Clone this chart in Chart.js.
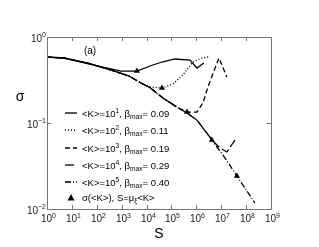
<!DOCTYPE html>
<html>
<head>
<title>sigma vs S</title>
<script src="https://cdn.jsdelivr.net/npm/chart.js"></script>
<style>
  body { margin: 0; background: #fff; }
  canvas { display: block; }
</style>
</head>
<body>
<canvas id="chart" width="319" height="247"></canvas>
<script>
// curve data (S, sigma)
const s1   = [1, 4.8, 77, 937, 4.1e3, 1.37e4, 4.15e4, 1.38e5, 5.5e5, 1.06e6, 2.0e6];
const sig1 = [0.585, 0.570, 0.472, 0.402, 0.402, 0.460, 0.512, 0.555, 0.540, 0.436, 0.499];

const s2   = [1, 4.8, 40, 372, 1960, 5960, 1.37e4, 4.15e4, 1.15e5, 2.9e5, 7.3e5, 1.68e6, 2.9e6, 3.5e6];
const sig2 = [0.585, 0.570, 0.499, 0.413, 0.352, 0.292, 0.262, 0.255, 0.284, 0.362, 0.512, 0.570, 0.585, 0.570];

const s3   = [1, 4.8, 40, 372, 1960, 5960, 1.37e4, 4.56e4, 1.66e5, 4.2e5, 1.06e6, 1.84e6, 2.92e6, 8.1e6, 1.69e7];
const sig3 = [0.585, 0.570, 0.499, 0.413, 0.352, 0.292, 0.258, 0.195, 0.153, 0.134, 0.134, 0.171, 0.262, 0.570, 0.343];

const s4   = [1, 4.8, 40, 372, 1960, 5960, 1.37e4, 4.56e4, 1.66e5, 4.2e5, 1.06e6, 3.5e6, 4.2e6, 8.9e6, 1.69e7, 3.55e7];
const sig4 = [0.585, 0.570, 0.499, 0.413, 0.352, 0.292, 0.258, 0.195, 0.153, 0.131, 0.108, 0.0687, 0.0634, 0.0512, 0.046, 0.0634];

const s5   = [1, 4.8, 40, 372, 1960, 5960, 1.37e4, 4.56e4, 1.66e5, 4.2e5, 1.06e6, 3.5e6, 4.2e6, 1.41e7, 4.27e7, 2.25e8];
const sig5 = [0.585, 0.570, 0.499, 0.413, 0.352, 0.292, 0.258, 0.195, 0.153, 0.131, 0.108, 0.0687, 0.0634, 0.0392, 0.0242, 0.01175];

// triangles: sigma(<K>) at S = mu_xi <K>
const triS   = [4.1e3, 4.15e4, 4.2e5, 4.2e6, 4.27e7];
const triSig = [0.402, 0.255, 0.134, 0.0634, 0.0242];

const kExp  = ['1', '2', '3', '4', '5'];
const betas = ['0.09', '0.11', '0.19', '0.29', '0.40'];
const dashes = [[], [1, 2], [5, 3], [9, 3], [6, 2, 1, 2]];

const xDecades = [0, 1, 2, 3, 4, 5, 6, 7, 8, 9];
const yDecades = [0, -1, -2];

function pts(xs, ys) {
  return xs.map((v, i) => ({ x: v, y: ys[i] }));
}

const curves = [[s1, sig1], [s2, sig2], [s3, sig3], [s4, sig4], [s5, sig5]];
const datasets = curves.map((c, i) => ({
  data: pts(c[0], c[1]),
  showLine: true,
  borderColor: '#000',
  borderWidth: 1.3,
  borderDash: dashes[i],
  pointRadius: 0,
  tension: 0
}));
datasets.push({
  data: pts(triS, triSig),
  showLine: false,
  pointStyle: 'triangle',
  pointRadius: 3.5,
  backgroundColor: '#000',
  borderColor: '#000',
  borderWidth: 0
});

const FONT = '"Liberation Sans", Arial, sans-serif';

// draw text pieces: [string, 'n' | 'sup' | 'sub']
function rich(ctx, parts, x, y, size) {
  let cx = x;
  parts.forEach(p => {
    let fs = size, dy = 0;
    if (p[1] === 'sup') { fs = size * 0.7; dy = -size * 0.42; }
    if (p[1] === 'sub') { fs = size * 0.7; dy = size * 0.3; }
    ctx.font = fs + 'px ' + FONT;
    ctx.fillText(p[0], cx, y + dy);
    cx += ctx.measureText(p[0]).width;
  });
  return cx - x;
}
function richWidth(ctx, parts, size) {
  let w = 0;
  parts.forEach(p => {
    const fs = p[1] === 'n' ? size : size * 0.7;
    ctx.font = fs + 'px ' + FONT;
    w += ctx.measureText(p[0]).width;
  });
  return w;
}

const decor = {
  id: 'decor',
  afterDraw(chart) {
    const ctx = chart.ctx;
    const a = chart.chartArea;
    const xs = chart.scales.x, ys = chart.scales.y;
    ctx.save();
    ctx.textBaseline = 'alphabetic';
    ctx.textAlign = 'left';

    // frame
    ctx.strokeStyle = '#777';
    ctx.lineWidth = 1;
    ctx.strokeRect(a.left + 0.5, a.top + 0.5, a.right - a.left, a.bottom - a.top);

    // x ticks + labels
    ctx.fillStyle = '#222';
    xDecades.forEach(e => {
      const px = Math.round(xs.getPixelForValue(Math.pow(10, e))) + 0.5;
      ctx.beginPath();
      ctx.moveTo(px, a.bottom); ctx.lineTo(px, a.bottom - 4);
      ctx.moveTo(px, a.top); ctx.lineTo(px, a.top + 4);
      ctx.stroke();
      const parts = [['10', 'n'], [String(e), 'sup']];
      const w = richWidth(ctx, parts, 10);
      rich(ctx, parts, px - w / 2 + 1, a.bottom + 13, 10);
    });

    // y ticks + labels
    yDecades.forEach(e => {
      const py = Math.round(ys.getPixelForValue(Math.pow(10, e))) + 0.5;
      ctx.beginPath();
      ctx.moveTo(a.left, py); ctx.lineTo(a.left + 4, py);
      ctx.moveTo(a.right, py); ctx.lineTo(a.right - 4, py);
      ctx.stroke();
      const parts = [['10', 'n'], [String(e).replace('-', '\u2212'), 'sup']];
      const w = richWidth(ctx, parts, 10);
      rich(ctx, parts, a.left - w - 1, py + 4, 10);
    });

    // axis titles
    ctx.fillStyle = '#000';
    ctx.font = '14px ' + FONT;
    ctx.textAlign = 'center';
    ctx.fillText('S', (a.left + a.right) / 2, 238);
    ctx.fillText('\u03c3', 20, 101);
    ctx.font = '10px ' + FONT;
    ctx.fillText('(a)', 90, 54);
    ctx.textAlign = 'left';

    // legend
    const rowY = [113, 130, 148, 165, 182, 198];
    ctx.strokeStyle = '#000';
    ctx.lineWidth = 1.3;
    kExp.forEach((k, i) => {
      const y = rowY[i];
      ctx.setLineDash(dashes[i]);
      ctx.beginPath();
      ctx.moveTo(65, y); ctx.lineTo(77, y);
      ctx.stroke();
      ctx.setLineDash([]);
      rich(ctx, [['<K>=10', 'n'], [k, 'sup'], [', \u03b2', 'n'], ['max', 'sub'], ['= ' + betas[i], 'n']], 82, y + 3.5, 9.5);
    });
    const ty = rowY[5];
    ctx.beginPath();
    ctx.moveTo(71, ty - 4); ctx.lineTo(74.5, ty + 2.5); ctx.lineTo(67.5, ty + 2.5);
    ctx.closePath();
    ctx.fill();
    rich(ctx, [['\u03c3(<K>), S=\u03bc', 'n'], ['\u03be', 'sub'], ['<K>', 'n']], 82, ty + 2.5, 9.5);

    ctx.restore();
  }
};

new Chart(document.getElementById('chart'), {
  type: 'scatter',
  data: { datasets: datasets },
  plugins: [decor],
  options: {
    responsive: false,
    animation: false,
    layout: { padding: { left: 47, top: 37, right: 48, bottom: 38 } },
    plugins: { legend: { display: false }, tooltip: { enabled: false } },
    scales: {
      x: { type: 'logarithmic', min: 1, max: 1e9, display: false },
      y: { type: 'logarithmic', min: 0.01, max: 1, display: false }
    }
  }
});
</script>
</body>
</html>
